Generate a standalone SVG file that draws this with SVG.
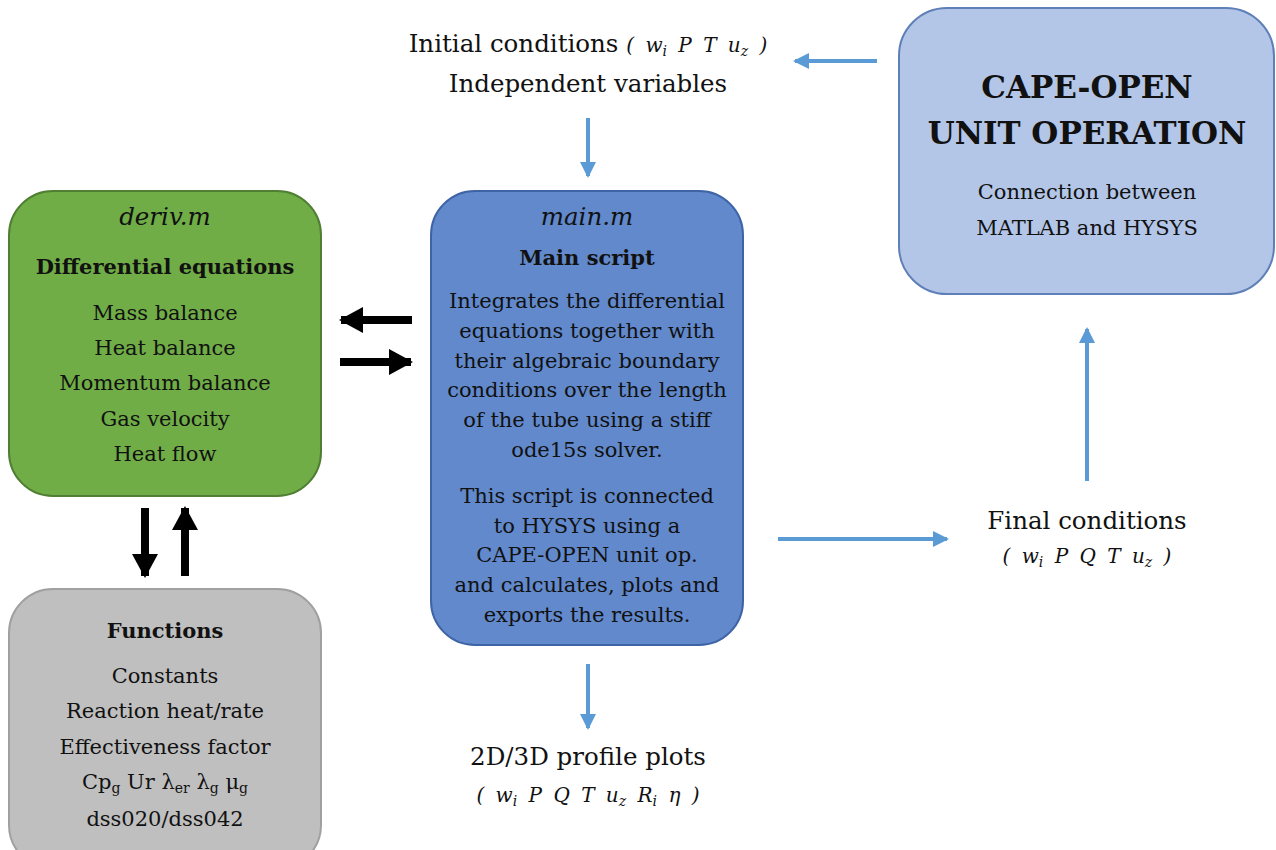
<svg xmlns="http://www.w3.org/2000/svg" width="1276" height="850" viewBox="0 0 1276 850">
<style>
text{font-family:"DejaVu Serif","Liberation Serif",serif;fill:#111;text-anchor:middle}
.t{font-size:24.5px}
.m{font-size:21px}
.b{font-weight:bold}
.i{font-style:italic}
.s{font-size:14px}
.p{font-style:italic;font-size:20px;word-spacing:5px}
.blue{stroke:#5B9BD5;stroke-width:4;fill:none}
.blk{stroke:#000;stroke-width:8;fill:none}
</style>
<defs>
<marker id="ab" markerUnits="userSpaceOnUse" markerWidth="16" markerHeight="16" refX="14" refY="8" orient="auto">
<path d="M0,0 L16,8 L0,16 Z" fill="#5B9BD5"/>
</marker>
<marker id="ak" markerUnits="userSpaceOnUse" markerWidth="24" markerHeight="26" refX="22" refY="13" orient="auto">
<path d="M0,0 L24,13 L0,26 Z" fill="#000"/>
</marker>
</defs>
<g id="connectors">
<line class="blue" x1="877" y1="61" x2="795" y2="61" marker-end="url(#ab)"/>
<line class="blue" x1="588" y1="118" x2="588" y2="176" marker-end="url(#ab)"/>
<line class="blue" x1="588" y1="664" x2="588" y2="728" marker-end="url(#ab)"/>
<line class="blue" x1="778" y1="539" x2="947" y2="539" marker-end="url(#ab)"/>
<line class="blue" x1="1087" y1="481" x2="1087" y2="329" marker-end="url(#ab)"/>
<line class="blk" x1="412" y1="320" x2="341" y2="320" marker-end="url(#ak)"/>
<line class="blk" x1="340" y1="362" x2="411" y2="362" marker-end="url(#ak)"/>
<line class="blk" x1="145" y1="508" x2="145" y2="576" marker-end="url(#ak)"/>
<line class="blk" x1="185" y1="576" x2="185" y2="508" marker-end="url(#ak)"/>
</g>
<g id="initial">
<text class="t" x="588" y="52">Initial conditions <tspan class="p">( w<tspan class="s" dy="4">i</tspan><tspan dy="-4"> P T u</tspan><tspan class="s" dy="4">z</tspan><tspan dy="-4"> )</tspan></tspan></text>
<text class="t" x="588" y="92">Independent variables</text>
</g>
<g id="cape">
<rect x="899" y="8" width="375" height="286" rx="48" fill="#B3C6E7" stroke="#5F7FB8" stroke-width="2"/>
<text class="b" font-size="31" x="1087" y="98">CAPE-OPEN</text>
<text class="b" font-size="31" x="1087" y="144">UNIT OPERATION</text>
<text class="m" x="1087" y="199">Connection between</text>
<text class="m" x="1087" y="235">MATLAB and HYSYS</text>
</g>
<g id="deriv">
<rect x="9" y="191" width="312" height="305" rx="44" fill="#70AD47" stroke="#507E32" stroke-width="2"/>
<text class="t i" x="165" y="225">deriv.m</text>
<text class="m b" x="165" y="274">Differential equations</text>
<text class="m" x="165" y="320">Mass balance</text>
<text class="m" x="165" y="355">Heat balance</text>
<text class="m" x="165" y="390">Momentum balance</text>
<text class="m" x="165" y="426">Gas velocity</text>
<text class="m" x="165" y="461">Heat flow</text>
</g>
<g id="functions">
<rect x="9" y="589" width="312" height="280" rx="44" fill="#BFBFBF" stroke="#A0A0A0" stroke-width="2"/>
<text class="m b" x="165" y="638">Functions</text>
<text class="m" x="165" y="683">Constants</text>
<text class="m" x="165" y="718">Reaction heat/rate</text>
<text class="m" x="165" y="754">Effectiveness factor</text>
<text class="m" x="165" y="789">Cp<tspan class="s" dy="4">g</tspan><tspan dy="-4"> Ur λ</tspan><tspan class="s" dy="4">er</tspan><tspan dy="-4"> λ</tspan><tspan class="s" dy="4">g</tspan><tspan dy="-4">  μ</tspan><tspan class="s" dy="4">g</tspan></text>
<text class="m" x="165" y="826">dss020/dss042</text>
</g>
<g id="main">
<rect x="431" y="191" width="312" height="454" rx="44" fill="#6189CC" stroke="#3E64A6" stroke-width="2"/>
<text class="t i" x="587" y="225">main.m</text>
<text class="m b" x="587" y="265">Main script</text>
<text class="m" x="587" y="308">Integrates the differential</text>
<text class="m" x="587" y="338">equations together with</text>
<text class="m" x="587" y="368">their algebraic boundary</text>
<text class="m" x="587" y="397">conditions over the length</text>
<text class="m" x="587" y="427">of the tube using a stiff</text>
<text class="m" x="587" y="457">ode15s solver.</text>
<text class="m" x="587" y="503">This script is connected</text>
<text class="m" x="587" y="533">to HYSYS using a</text>
<text class="m" x="587" y="562">CAPE-OPEN unit op.</text>
<text class="m" x="587" y="592">and calculates, plots and</text>
<text class="m" x="587" y="622">exports the results.</text>
</g>
<g id="final">
<text class="t" x="1087" y="529">Final conditions</text>
<text class="p" x="1087" y="563">( w<tspan class="s" dy="4">i</tspan><tspan dy="-4"> P Q T u</tspan><tspan class="s" dy="4">z</tspan><tspan dy="-4"> )</tspan></text>
</g>
<g id="plots">
<text class="t" x="588" y="765">2D/3D profile plots</text>
<text class="p" x="588" y="802">( w<tspan class="s" dy="4">i</tspan><tspan dy="-4"> P Q T u</tspan><tspan class="s" dy="4">z</tspan><tspan dy="-4"> R</tspan><tspan class="s" dy="4">i</tspan><tspan dy="-4"> η )</tspan></text>
</g>
</svg>
